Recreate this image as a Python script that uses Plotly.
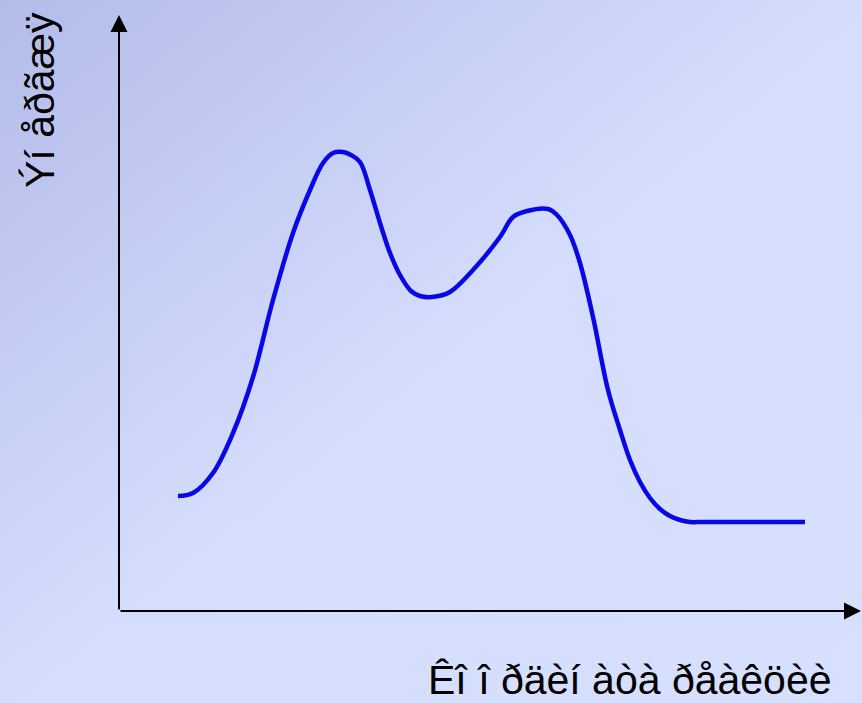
"""
Reaction energy profile: two humps, drawn with Plotly.
"""

import base64

import plotly.graph_objects as go

# Reaction coordinate (arbitrary units) and energy (arbitrary units)
reaction_coord = [59, 74, 94, 114, 134, 154, 174, 191, 204, 214, 224, 232, 241,
                  251, 261, 271, 281, 292, 301, 313, 331, 354, 381, 394, 408,
                  429, 438, 451, 461, 474, 489, 501, 511, 521, 531, 541, 551,
                  561, 571, 586, 686]
energy = [115, 118, 138, 178, 234, 311, 378, 421, 448, 458, 459, 456, 449,
          421, 388, 358, 336, 320, 315, 314, 319, 341, 374, 394, 400, 402,
          396, 376, 348, 294, 221, 181, 151, 129, 113, 102, 95, 91, 89, 89, 89]

y_label = "Ýí åðãæÿ"
x_label = "Êî î ðäèí àòà ðåàêöèè"

W, H = 862, 703
ML, MB = 119, 92

# diagonal background gradient as an inline svg
svg = f"""<svg xmlns='http://www.w3.org/2000/svg' width='{W}' height='{H}'>
<defs><linearGradient id='g' x1='0' y1='0' x2='1' y2='1'>
<stop offset='0' stop-color='#b3bbe9'/>
<stop offset='0.5' stop-color='#d4ddfd'/>
<stop offset='1' stop-color='#d8e0ff'/>
</linearGradient></defs>
<rect width='{W}' height='{H}' fill='url(#g)'/></svg>"""
bg_uri = "data:image/svg+xml;base64," + base64.b64encode(svg.encode()).decode()

fig = go.Figure()

fig.add_trace(go.Scatter(
    x=reaction_coord,
    y=energy,
    mode="lines",
    line=dict(color="#0808e6", width=4.5, shape="spline", smoothing=1.0),
    showlegend=False,
    hoverinfo="skip",
))

fig.update_layout(
    width=W,
    height=H,
    margin=dict(l=ML, r=0, t=0, b=MB),
    paper_bgcolor="#d4ddfd",
    plot_bgcolor="rgba(0,0,0,0)",
    font=dict(family="Liberation Sans, Arial, sans-serif", color="black"),
    images=[dict(
        source=bg_uri, xref="paper", yref="paper",
        x=-ML / (W - ML), y=1, sizex=W / (W - ML), sizey=H / (H - MB),
        xanchor="left", yanchor="top", sizing="stretch", layer="below",
    )],
)

fig.update_xaxes(range=[0, W - ML], visible=False, fixedrange=True)
fig.update_yaxes(range=[0, H - MB], visible=False, fixedrange=True)

# axes with arrowheads
arrow = dict(xref="x", yref="y", axref="x", ayref="y", text="",
             showarrow=True, arrowhead=2, arrowsize=1.7, arrowwidth=2,
             arrowcolor="black")
fig.add_annotation(x=0, y=596, ax=0, ay=0, **arrow)
fig.add_annotation(x=742, y=0, ax=0, ay=0, **arrow)

# axis titles
fig.add_annotation(x=(630 - ML) / (W - ML), y=(H - MB - 680) / (H - MB),
                   xref="paper", yref="paper", text=x_label, showarrow=False,
                   font=dict(size=41), xanchor="center", yanchor="middle")
fig.add_annotation(x=(40 - ML) / (W - ML), y=(H - MB - 100) / (H - MB),
                   xref="paper", yref="paper", text=y_label, showarrow=False,
                   textangle=-90, font=dict(size=41),
                   xanchor="center", yanchor="middle")

fig.write_html("out.html", config={"displayModeBar": False},
               post_script="document.body.style.margin='0';")
